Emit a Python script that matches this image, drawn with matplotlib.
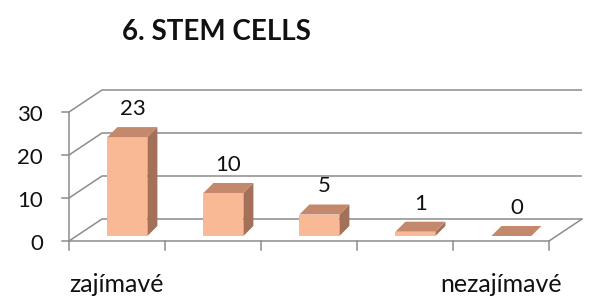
import matplotlib.pyplot as plt
from matplotlib.patches import Polygon

plt.rcParams['font.family'] = ['Lato', 'DejaVu Sans']

# data
categories = ['zajímavé', '', '', '', 'nezajímavé']
values = [23, 10, 5, 1, 0]
yticks = [0, 10, 20, 30]

title = '6. STEM CELLS'

# pixel scale of the front plane (approx. from the picture)
px_x = 96.0    # px per category
px_y = 4.3     # px per value unit
x0_px, y0_px = 69, 241

fig = plt.figure(figsize=(6.14, 3.0), dpi=100)
ax = fig.add_axes([0, 0, 1, 1])
ax.set_xlim(-x0_px / px_x, (614 - x0_px) / px_x)
ax.set_ylim(-(300 - y0_px) / px_y, y0_px / px_y)
ax.axis('off')

# wall depth offsets (data units)
ddx, ddy = 33 / px_x, 22 / px_y
# bar depth offsets
bdx, bdy = 10 / px_x, 10 / px_y
bar_base = 5 / px_y
bar_w = 40 / px_x

grid_col = '#8c8c8c'
n = len(categories)

# side wall + back wall gridlines
for v in yticks:
    ax.plot([0, ddx, n + ddx], [v, v + ddy, v + ddy], color=grid_col, lw=1.1,
            solid_capstyle='butt', zorder=1)
# front axis, floor
ax.plot([0, 0], [0, yticks[-1]], color=grid_col, lw=1.1, zorder=1)
ax.plot([0, n, n + ddx], [0, 0, ddy], color=grid_col, lw=1.1, zorder=1)
# y ticks
for v in yticks:
    ax.plot([-7 / px_x, 0], [v, v], color=grid_col, lw=1.1)
    ax.text(-26 / px_x, v - 3 / px_y, str(v), ha='right', va='center',
            fontsize=16, color='#111111')
# x ticks
for i in range(n + 1):
    ax.plot([i, i], [0, -9 / px_y], color=grid_col, lw=1.1)

front = '#f9b994'
side = '#a3705a'
top = '#c4896c'

for i, v in enumerate(values):
    L = i + 0.4
    b = bar_base
    R = L + bar_w
    ax.add_patch(Polygon([(L, b), (R, b), (R, b + v), (L, b + v)],
                         closed=True, fc=front, ec='none', zorder=3))
    ax.add_patch(Polygon([(R, b), (R + bdx, b + bdy), (R + bdx, b + v + bdy), (R, b + v)],
                         closed=True, fc=side, ec='none', zorder=3))
    ax.add_patch(Polygon([(L, b + v), (L + bdx, b + v + bdy), (R + bdx, b + v + bdy), (R, b + v)],
                         closed=True, fc=top, ec='none', zorder=3))
    ax.text(L + (bar_w + bdx) / 2, b + v + bdy + 18 / px_y, str(v),
            ha='center', va='center', fontsize=16, color='#111111')

for i, c in enumerate(categories):
    if c:
        ax.text(i + 0.5, -43 / px_y, c, ha='center', va='center',
                fontsize=18, color='#111111')

ax.text((216 - x0_px) / px_x, (y0_px - 32) / px_y, title, ha='center',
        va='center', fontsize=20, fontweight='bold', color='#111111')

fig.savefig('out.png', dpi=100)
